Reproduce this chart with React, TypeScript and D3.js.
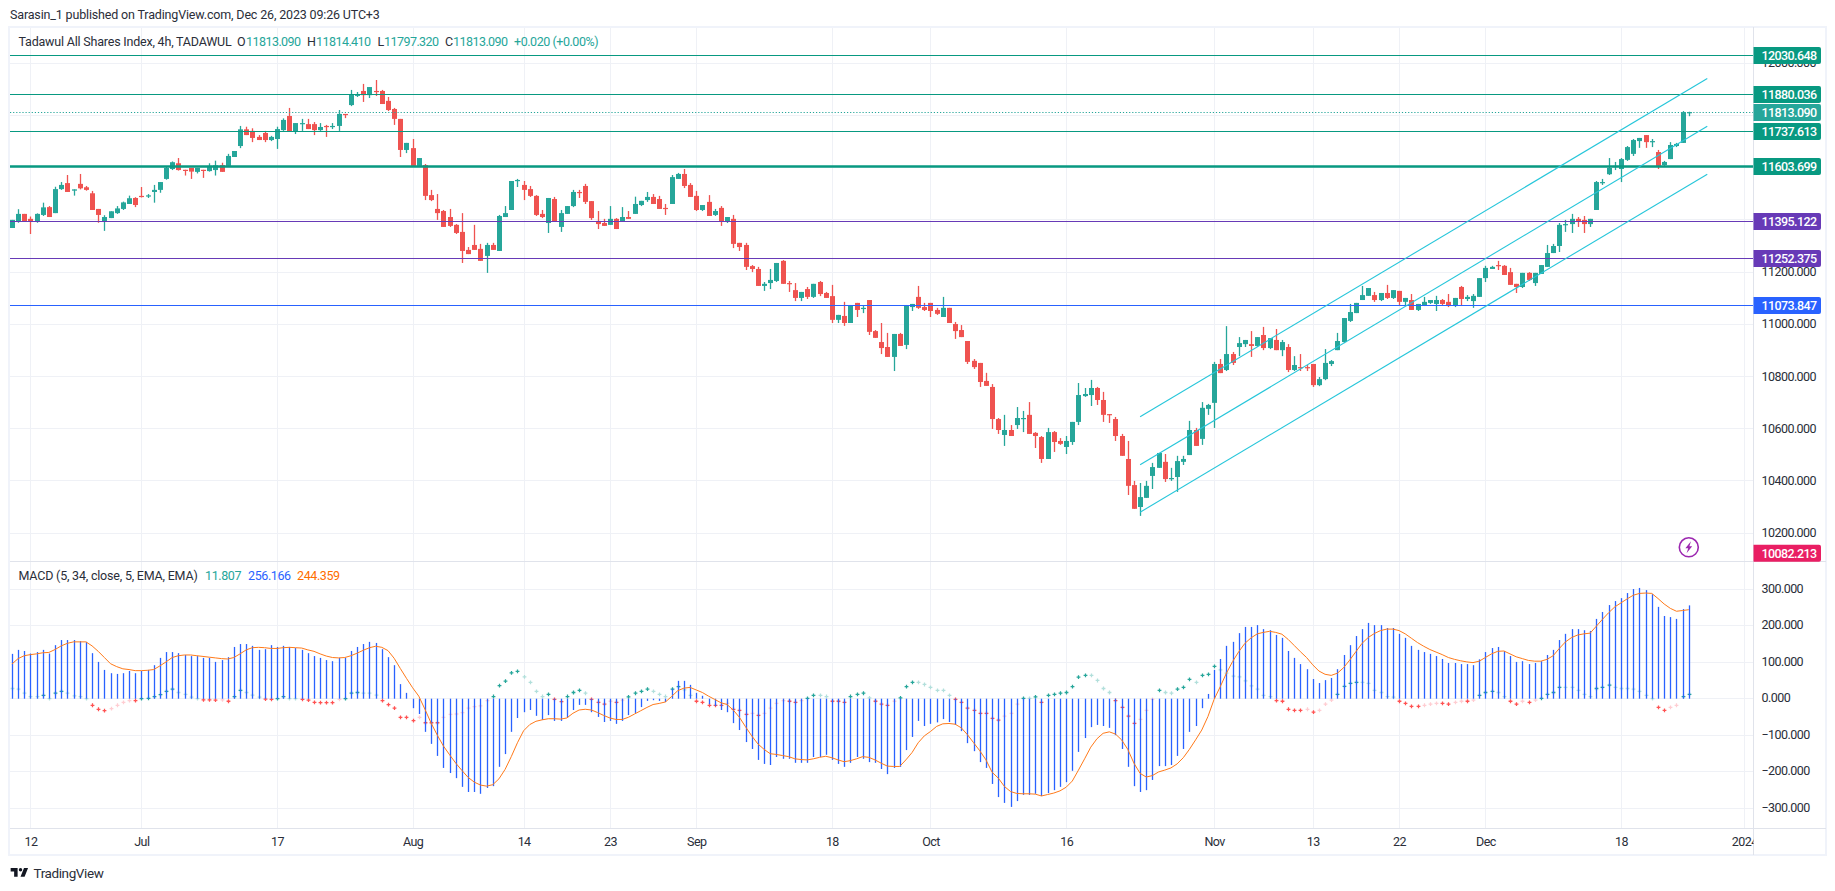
import { useEffect, useRef } from 'react';
import {
  select,
  scaleLinear,
  axisRight,
  axisBottom,
  line,
  symbol,
  symbolCross,
  format,
} from 'd3';

const opens = [
  11369,11393,11423,11404,11393,11419,11449,11426,11518,11541,
  11512,11538,11525,11502,11442,11395,11407,11426,11442,11461,
  11484,11492,11490,11507,11515,11557,11595,11617,11592,11599,
  11584,11592,11587,11591,11610,11607,11641,11683,11747,11741,
  11718,11733,11706,11710,11744,11798,11739,11767,11767,11767,
  11744,11760,11756,11760,11806,11840,11875,11894,11878,11894,
  11894,11856,11825,11787,11668,11675,11607,11610,11495,11442,
  11434,11411,11381,11354,11285,11304,11289,11262,11304,11281,
  11411,11438,11549,11534,11518,11492,11423,11388,11480,11373,
  11423,11453,11507,11530,11472,11396,11388,11381,11404,11393,
  11411,11423,11457,11476,11488,11480,11446,11461,11557,11576,
  11534,11492,11438,11469,11419,11446,11392,11404,11312,11304,
  11223,11212,11147,11158,11166,11243,11158,11131,11101,11135,
  11105,11162,11120,11108,11017,11032,11005,11082,11059,11093,
  10974,10932,10913,10875,10963,10921,11066,11105,11066,11082,
  11055,11028,11063,11001,10978,10936,10860,10852,10783,10760,
  10637,10576,10595,10614,10637,10653,10584,10568,10484,10587,
  10553,10530,10549,10626,10725,10729,10756,10710,10656,10637,
  10572,10484,10384,10300,10335,10419,10450,10473,10407,10415,
  10473,10499,10595,10561,10676,10699,10848,10825,10886,10913,
  10924,10924,10917,10959,10909,10940,10901,10913,10825,10836,
  10836,10848,10767,10790,10848,10901,10932,11013,11043,11093,
  11109,11112,11093,11120,11101,11128,11086,11093,11055,11074,
  11082,11078,11093,11086,11070,11143,11097,11089,11105,11177,
  11212,11227,11224,11200,11155,11143,11197,11158,11193,11220,
  11273,11300,11381,11384,11404,11400,11384,11438,11541,11575,
  11603,11595,11630,11653,11702,11725,11698,11660,11610,11633,
  11683,11695,11813.09,
];

const highs = [
  11400,11441,11423,11413,11425,11466,11453,11527,11545,11572,
  11517,11576,11530,11511,11442,11418,11433,11453,11470,11493,
  11487,11526,11499,11534,11545,11604,11624,11637,11592,11599,
  11599,11592,11617,11627,11619,11653,11664,11760,11757,11751,
  11725,11741,11722,11757,11789,11829,11771,11787,11787,11775,
  11771,11764,11771,11821,11806,11898,11890,11921,11909,11936,
  11898,11871,11829,11787,11695,11710,11637,11614,11515,11499,
  11438,11442,11384,11426,11296,11381,11308,11312,11312,11419,
  11453,11549,11557,11549,11530,11495,11438,11484,11488,11438,
  11453,11515,11515,11538,11472,11434,11404,11453,11407,11449,
  11434,11489,11473,11507,11499,11492,11461,11572,11580,11595,
  11541,11511,11457,11495,11442,11453,11411,11419,11312,11312,
  11227,11220,11162,11212,11235,11246,11166,11158,11124,11143,
  11155,11166,11124,11151,11036,11086,11074,11082,11074,11093,
  10978,11005,10967,10963,10967,11074,11078,11147,11082,11082,
  11063,11105,11063,11009,10997,10936,10867,10852,10814,10771,
  10641,10653,10614,10683,10668,10702,10587,10572,10603,10591,
  10564,10572,10626,10775,10756,10787,10760,10741,10656,10645,
  10580,10553,10400,10392,10400,10469,10507,10503,10450,10496,
  10496,10630,10603,10702,10695,10856,10867,10993,10894,10951,
  10940,10974,10951,10990,10947,10982,10940,10924,10878,10886,
  10844,10848,10798,10905,10863,10967,11024,11078,11082,11147,
  11139,11124,11120,11151,11131,11128,11101,11116,11078,11105,
  11093,11109,11097,11116,11101,11147,11112,11116,11177,11224,
  11224,11243,11227,11216,11155,11197,11200,11197,11227,11304,
  11308,11388,11400,11423,11411,11415,11404,11549,11557,11637,
  11622,11637,11683,11710,11714,11725,11710,11668,11626,11698,
  11695,11817,11814.41,
];

const lows = [
  11369,11389,11393,11346,11389,11415,11411,11426,11515,11507,
  11493,11517,11512,11438,11389,11358,11407,11423,11438,11461,
  11449,11486,11484,11466,11504,11554,11591,11589,11570,11557,
  11578,11561,11585,11570,11584,11607,11641,11675,11725,11698,
  11706,11698,11702,11672,11741,11739,11729,11741,11748,11725,
  11741,11718,11748,11741,11790,11836,11871,11852,11867,11875,
  11844,11817,11764,11641,11656,11607,11603,11476,11472,11400,
  11373,11373,11346,11235,11269,11285,11243,11197,11285,11281,
  11411,11438,11526,11476,11488,11415,11407,11350,11392,11354,
  11423,11449,11484,11461,11400,11365,11377,11381,11365,11393,
  11404,11423,11453,11469,11461,11442,11419,11461,11557,11522,
  11488,11434,11434,11415,11415,11377,11388,11292,11281,11208,
  11200,11147,11128,11135,11162,11155,11124,11089,11089,11097,
  11101,11108,11101,11005,11005,10994,11005,11028,11043,10959,
  10948,10886,10875,10821,10917,10905,11051,11059,11051,11028,
  11036,11028,11005,10944,10951,10848,10829,10760,10764,10599,
  10580,10534,10572,10599,10587,10580,10526,10469,10484,10511,
  10538,10503,10538,10614,10722,10687,10691,10626,10622,10553,
  10496,10346,10293,10266,10335,10369,10450,10396,10400,10358,
  10461,10499,10534,10538,10653,10603,10813,10821,10844,10878,
  10913,10875,10913,10901,10905,10901,10878,10817,10821,10821,
  10821,10760,10763,10786,10840,10901,10928,11009,11043,11093,
  11109,11086,11089,11097,11097,11074,11070,11055,11051,11070,
  11078,11051,11074,11066,11066,11070,11089,11063,11105,11162,
  11212,11208,11189,11151,11120,11139,11166,11147,11193,11220,
  11273,11277,11354,11350,11373,11350,11373,11438,11534,11572,
  11591,11545,11626,11645,11676,11676,11679,11595,11607,11633,
  11679,11695,11797.32,
];

const closes = [
  11400,11423,11393,11393,11423,11448,11411,11518,11534,11507,
  11517,11521,11515,11438,11419,11411,11433,11444,11467,11483,
  11457,11488,11494,11515,11545,11599,11621,11591,11589,11585,
  11599,11589,11607,11609,11584,11645,11664,11747,11725,11714,
  11706,11706,11718,11748,11783,11739,11771,11771,11748,11744,
  11756,11756,11760,11806,11802,11881,11881,11878,11909,11890,
  11844,11821,11787,11668,11695,11607,11637,11492,11476,11426,
  11373,11377,11350,11281,11269,11285,11243,11304,11285,11415,
  11426,11549,11553,11515,11492,11419,11411,11484,11392,11426,
  11453,11507,11503,11469,11407,11384,11377,11404,11365,11411,
  11404,11461,11473,11488,11461,11442,11442,11564,11576,11530,
  11488,11438,11457,11415,11434,11392,11411,11308,11296,11220,
  11212,11147,11155,11170,11235,11155,11155,11101,11124,11105,
  11155,11116,11101,11017,11036,11005,11074,11055,11063,10971,
  10948,10909,10875,10963,10917,11074,11078,11063,11055,11051,
  11040,11063,11005,10974,10951,10856,10836,10779,10764,10637,
  10595,10595,10572,10641,10641,10580,10572,10484,10587,10549,
  10542,10553,10626,10729,10733,10756,10710,10653,10653,10572,
  10496,10381,10293,10338,10381,10453,10507,10407,10411,10476,
  10484,10595,10534,10680,10691,10848,10813,10886,10852,10928,
  10940,10917,10951,10909,10947,10901,10932,10825,10844,10832,
  10832,10767,10790,10852,10859,10936,11024,11047,11082,11112,
  11139,11093,11120,11101,11131,11086,11101,11055,11078,11086,
  11093,11093,11078,11070,11101,11097,11105,11109,11177,11216,
  11220,11224,11189,11151,11143,11197,11170,11197,11227,11273,
  11300,11381,11384,11404,11396,11384,11404,11545,11545,11599,
  11607,11633,11679,11706,11714,11698,11702,11607,11622,11687,
  11691,11813,11813.09,
];

// MACD pane: blue columns
const macdBars = [
  123,134,131,124,128,134,124,147,161,161,
  161,158,156,125,101,79,70,68,70,76,
  70,76,79,92,112,128,128,125,120,117,
  117,112,112,101,106,114,142,150,150,145,
  134,136,147,142,145,142,139,134,125,117,
  112,106,103,112,112,131,142,150,156,153,
  136,114,92,40,16,-26,-42,-91,-124,-157,
  -190,-204,-218,-242,-256,-256,-261,-245,-240,-187,
  -152,-91,-53,-37,-31,-47,-58,-45,-61,-61,
  -53,-31,-17,-17,-37,-50,-64,-61,-69,-61,
  -45,-39,-23,-6,-4,-6,-9,27,49,49,
  38,16,8,-15,-20,-31,-37,-67,-86,-119,
  -138,-168,-179,-182,-160,-165,-165,-176,-176,-176,
  -160,-160,-154,-168,-179,-187,-176,-160,-165,-174,
  -176,-193,-207,-190,-187,-141,-105,-61,-75,-69,
  -65,-56,-64,-72,-89,-122,-144,-174,-190,-234,
  -270,-286,-297,-281,-264,-264,-261,-267,-259,-251,
  -242,-229,-198,-146,-108,-78,-72,-75,-80,-100,
  -138,-187,-240,-256,-251,-223,-185,-185,-182,-157,
  -138,-91,-75,-26,13,79,109,145,156,180,
  197,197,202,191,188,175,167,131,112,95,
  81,54,43,51,57,81,120,147,172,191,
  208,202,202,194,194,178,167,145,134,128,
  123,117,109,98,98,95,95,92,108,128,
  139,142,131,117,101,103,95,98,103,120,
  134,161,178,191,191,188,186,219,238,257,
  268,276,290,301,304,298,287,252,227,224,
  219,246,256.166,
];

// MACD pane: orange signal line
const signalLine = [
  95,110,118,121,123,126,127,135,145,152,
  156,156,156,145,130,113,96,88,82,80,
  77,77,78,80,90,101,113,118,120,120,
  118,116,114,112,110,109,113,123,134,140,
  141,140,138,138,140,141,140,139,134,130,
  123,117,113,112,113,118,125,133,140,144,
  141,132,111,83,56,30,7,-29,-67,-100,
  -130,-154,-177,-197,-216,-229,-237,-240,-236,-220,
  -194,-159,-121,-88,-71,-62,-58,-55,-55,-56,
  -53,-40,-31,-29,-31,-38,-46,-53,-57,-57,
  -51,-42,-33,-24,-16,-13,-9,6,22,29,
  31,24,17,7,-2,-11,-16,-31,-51,-77,
  -102,-124,-139,-151,-153,-156,-159,-165,-167,-168,
  -165,-161,-158,-162,-168,-173,-170,-165,-159,-161,
  -168,-177,-185,-186,-186,-168,-148,-121,-102,-90,
  -76,-69,-68,-70,-80,-99,-121,-143,-168,-202,
  -218,-241,-255,-260,-261,-261,-262,-267,-263,-259,
  -253,-243,-226,-196,-165,-133,-110,-95,-91,-97,
  -113,-139,-177,-205,-215,-211,-201,-196,-190,-179,
  -162,-139,-113,-86,-49,-2,33,70,102,129,
  152,167,178,182,185,182,177,163,146,129,
  113,93,76,67,64,70,85,106,129,152,
  168,179,187,191,191,187,178,166,154,144,
  135,128,121,113,108,104,101,99,103,113,
  123,130,131,123,115,110,105,103,103,108,
  118,138,156,168,175,178,180,199,218,236,
  252,263,274,284,289,290,289,275,260,248,
  240,242,244.359,
];

// MACD pane: cross markers
const histCrosses = [
  28,26,15,6,6,9,0,15,20,15,
  8,6,0,-18,-29,-33,-27,-18,-10,-5,
  -5,0,1,6,11,20,26,17,12,4,
  0,-3,-3,-4,-3,-7,6,23,17,10,
  4,-1,-2,0,6,0,0,-2,-4,-10,
  -11,-11,-11,-2,0,15,17,15,15,10,
  -5,-16,-26,-51,-51,-60,-51,-66,-66,-66,
  -51,-43,-42,-38,-26,-22,-20,-5,6,36,
  48,71,75,60,45,20,6,12,-2,-8,
  6,17,23,15,-2,-10,-15,-7,-10,-4,
  5,15,20,26,20,12,6,26,33,24,
  9,-7,-10,-18,-18,-18,-13,-29,-32,-43,
  -40,-46,-40,-26,-13,-5,-7,-10,-5,1,
  9,9,6,-7,-7,-10,6,12,15,2,
  -7,-15,-18,-7,2,33,45,45,39,31,
  23,23,9,-2,-10,-26,-32,-40,-40,-54,
  -59,-48,-40,-15,1,1,5,-10,9,12,
  15,17,33,59,64,64,50,28,17,-5,
  -24,-48,-68,-57,-32,-2,23,17,15,26,
  31,53,45,64,67,89,79,70,62,60,
  49,35,26,9,6,-5,-7,-29,-32,-32,
  -29,-37,-32,-15,-4,12,34,42,45,45,
  42,23,17,6,4,-7,-13,-21,-21,-18,
  -15,-13,-13,-15,-10,-7,-7,-4,9,17,
  20,17,6,-7,-15,-7,-10,-4,1,12,
  17,31,31,31,23,12,6,28,31,37,
  31,28,28,26,20,9,0,-24,-32,-24,
  -18,6,11.807,
];

const priceTicks = [10200, 10400, 10600, 10800, 11000, 11200, 11400, 11600, 11800, 12000];
const macdTicks = [-300, -200, -100, 0, 100, 200, 300];
const timeTickIndex = [3, 21, 43, 65, 83, 97, 111, 133, 149, 171, 195, 211, 225, 239, 261, 281];
const timeTickLabels = ['12', 'Jul', '17', 'Aug', '14', '23', 'Sep', '18', 'Oct', '16', 'Nov', '13', '22', 'Dec', '18', '2024'];

const levelPrices = [12030.648, 11880.036, 11737.613, 11603.699, 11395.122, 11252.375, 11073.847];
const levelColors = ['#089981', '#089981', '#089981', '#089981', '#673AB7', '#673AB7', '#2962FF'];
const levelWidths = [1.2, 1.2, 1.2, 2.4, 1.2, 1.2, 1.2];

const channelStart = 183;
const channelEnd = 275;
const channelStartPrices = [10646, 10462, 10280];
const channelEndPrices = [11942, 11759, 11575];

const lastPrice = 11813.09;
const lowLabel = 10082.213;

const W = 1835;
const H = 891;
const left = 10;
const axisX = 1753.5;
const right = 1826;
const top = 27;
const paneBottom = 561;
const macdBottom = 828;
const bottom = 855;
const UP = '#26A69A';
const DOWN = '#EF5350';
const FONT = 'Roboto, sans-serif';
const INK = '#2A2E39';

const App = () => {
  const ref = useRef<SVGSVGElement>(null);

  useEffect(() => {
    const svg = select(ref.current);
    svg.selectAll('*').remove();

    const x = scaleLinear().domain([0, 272]).range([11.9, 1688.8]);
    const y = scaleLinear().domain([10200, 12000]).range([533.1, 63.3]);
    const yM = scaleLinear().domain([-300, 300]).range([808, 589.4]);
    const px = (i: number) => Math.round(x(i));
    const crisp = (v: number) => Math.floor(v) + 0.5;

    svg.append('defs').append('clipPath').attr('id', 'plot')
      .append('rect').attr('x', left).attr('y', top).attr('width', axisX - left).attr('height', bottom - top);

    // grid
    const grid = svg.append('g').attr('stroke', '#EFF1F6').attr('shape-rendering', 'crispEdges');
    grid.selectAll('.v').data(timeTickIndex).join('line').attr('class', 'v')
      .attr('x1', (d) => px(d) + 0.5).attr('x2', (d) => px(d) + 0.5)
      .attr('y1', top).attr('y2', macdBottom);
    grid.selectAll('.h').data(priceTicks).join('line').attr('class', 'h')
      .attr('x1', left).attr('x2', axisX)
      .attr('y1', (d) => crisp(y(d))).attr('y2', (d) => crisp(y(d)));
    grid.selectAll('.m').data(macdTicks).join('line').attr('class', 'm')
      .attr('x1', left).attr('x2', axisX)
      .attr('y1', (d) => crisp(yM(d))).attr('y2', (d) => crisp(yM(d)));

    const plot = svg.append('g').attr('clip-path', 'url(#plot)');

    // candles
    const candles = plot.append('g');
    const isUp = (i: number) => closes[i] >= opens[i];
    candles.selectAll('.wick').data(opens).join('rect').attr('class', 'wick')
      .attr('x', (_, i) => px(i) - 0.15)
      .attr('y', (_, i) => y(highs[i]))
      .attr('width', 1.3)
      .attr('height', (_, i) => Math.max(1, y(lows[i]) - y(highs[i])))
      .attr('fill', (_, i) => (isUp(i) ? UP : DOWN));
    candles.selectAll('.body').data(opens).join('rect').attr('class', 'body')
      .attr('x', (_, i) => px(i) - 2)
      .attr('y', (_, i) => y(Math.max(opens[i], closes[i])))
      .attr('width', 5)
      .attr('height', (_, i) => Math.max(1.2, Math.abs(y(opens[i]) - y(closes[i]))))
      .attr('fill', (_, i) => (isUp(i) ? UP : DOWN));

    // levels
    plot.selectAll('.level').data(levelPrices).join('line').attr('class', 'level')
      .attr('x1', left).attr('x2', axisX)
      .attr('y1', (d) => crisp(y(d))).attr('y2', (d) => crisp(y(d)))
      .attr('stroke', (_, i) => levelColors[i])
      .attr('stroke-width', (_, i) => levelWidths[i]);

    plot.append('line')
      .attr('x1', left).attr('x2', axisX)
      .attr('y1', crisp(y(lastPrice))).attr('y2', crisp(y(lastPrice)))
      .attr('stroke', UP).attr('stroke-width', 1.2).attr('stroke-dasharray', '1.2 1.9');

    // channel
    plot.selectAll('.chan').data(channelStartPrices).join('line').attr('class', 'chan')
      .attr('x1', x(channelStart)).attr('x2', x(channelEnd))
      .attr('y1', (d) => y(d)).attr('y2', (_, i) => y(channelEndPrices[i]))
      .attr('stroke', '#26C6DA').attr('stroke-width', 1.1);

    // lightning badge
    const badge = svg.append('g').attr('transform', `translate(${x(272)},547.3)`);
    badge.append('circle').attr('r', 9.5).attr('fill', '#fff').attr('stroke', '#9C27B0').attr('stroke-width', 1.6);
    badge.append('path').attr('d', 'M2.2 -6 L-3.4 1 L-0.6 1 L-2.2 6 L3.4 -1 L0.6 -1 Z').attr('fill', '#9C27B0');

    // macd pane
    plot.selectAll('.cross').data(histCrosses).join('path').attr('class', 'cross')
      .attr('d', symbol().type(symbolCross).size(8)() as string)
      .attr('transform', (d, i) => `translate(${px(i) + 0.5},${yM(d)})`)
      .attr('fill', (d, i) => {
        const prev = i > 0 ? histCrosses[i - 1] : d;
        if (d >= 0) return d > prev ? '#26A69A' : '#B2DFDB';
        return d > prev ? '#FFCDD2' : '#FF5252';
      });

    plot.append('g')
      .selectAll('rect').data(macdBars).join('rect')
      .attr('x', (_, i) => px(i) - 0.15)
      .attr('y', (d) => Math.min(yM(d), yM(0)))
      .attr('width', 1.3)
      .attr('height', (d) => Math.abs(yM(d) - yM(0)))
      .attr('fill', '#2962FF');

    const signalPath = line<number>().x((_, i) => x(i)).y((d) => yM(d));
    plot.append('path').attr('d', signalPath(signalLine) as string)
      .attr('fill', 'none').attr('stroke', '#FF7A1A').attr('stroke-width', 1);

    // frame
    const frame = svg.append('g').attr('shape-rendering', 'crispEdges');
    frame.append('rect').attr('x', 9).attr('y', top).attr('width', right - 9).attr('height', bottom - top)
      .attr('fill', 'none').attr('stroke', '#F0F3FA').attr('stroke-width', 2);
    [paneBottom, macdBottom].forEach((v) => {
      frame.append('line').attr('x1', left).attr('x2', right).attr('y1', v + 0.5).attr('y2', v + 0.5).attr('stroke', '#E0E3EB');
    });
    frame.append('line').attr('x1', axisX).attr('x2', axisX).attr('y1', top).attr('y2', bottom).attr('stroke', '#E0E3EB');

    // axes
    const styleAxis = (g: any) => {
      g.select('.domain').remove();
      g.selectAll('text')
        .attr('font-family', FONT).attr('font-size', 12.5).attr('letter-spacing', -0.55).attr('fill', INK);
    };
    svg.append('g').attr('transform', `translate(${axisX + 8},-0.5)`)
      .call(axisRight(y).tickValues(priceTicks).tickSize(0).tickPadding(0).tickFormat(format('.3f')) as any)
      .call(styleAxis);
    svg.append('g').attr('transform', `translate(${axisX + 8},-1)`)
      .call(axisRight(yM).tickValues(macdTicks).tickSize(0).tickPadding(0).tickFormat(format('.3f')) as any)
      .call(styleAxis);
    svg.append('defs').append('clipPath').attr('id', 'timeclip')
      .append('rect').attr('x', left).attr('y', macdBottom).attr('width', axisX - left).attr('height', bottom - macdBottom);
    svg.append('g').attr('clip-path', 'url(#timeclip)')
      .append('g').attr('transform', `translate(0,${macdBottom + 9})`)
      .call(axisBottom(x).tickValues(timeTickIndex).tickSize(0).tickPadding(0).tickFormat((_, i) => timeTickLabels[i]) as any)
      .call(styleAxis);

    // price labels
    const labels = levelPrices.map((p, i) => ({ p, c: levelColors[i] }));
    labels.push({ p: lastPrice, c: UP }, { p: lowLabel, c: '#E91E63' });
    const tag = svg.append('g').selectAll('g').data(labels).join('g')
      .attr('transform', (d) => `translate(${axisX},${d.p === lowLabel ? 553.2 : crisp(y(d.p))})`);
    tag.append('path')
      .attr('d', 'M0 -8.5 H65.5 a2 2 0 0 1 2 2 V6.5 a2 2 0 0 1 -2 2 H0 Z')
      .attr('fill', (d) => d.c);
    tag.append('text').attr('x', 8).attr('dy', '0.35em')
      .attr('font-family', FONT).attr('font-size', 12.5).attr('font-weight', 500)
      .attr('letter-spacing', -0.6).attr('fill', '#fff')
      .text((d) => format('.3f')(d.p));

    // legends
    const txt = (sx: number, sy: number, s: string, fill: string, spacing: number, size = 12.5) =>
      svg.append('text').attr('x', sx).attr('y', sy)
        .attr('font-family', FONT).attr('font-size', size).attr('letter-spacing', spacing)
        .attr('fill', fill).text(s);

    txt(10, 19, 'Sarasin_1 published on TradingView.com, Dec 26, 2023 09:26 UTC+3', INK, -0.16);
    txt(18.5, 46, 'Tadawul All Shares Index, 4h, TADAWUL', INK, -0.2);
    txt(237, 46, 'O', INK, 0);
    txt(246, 46, '11813.090', UP, -0.55);
    txt(307, 46, 'H', INK, 0);
    txt(316, 46, '11814.410', UP, -0.55);
    txt(377.5, 46, 'L', INK, 0);
    txt(384, 46, '11797.320', UP, -0.55);
    txt(445, 46, 'C', INK, 0);
    txt(453, 46, '11813.090', UP, -0.55);
    txt(514, 46, '+0.020 (+0.00%)', UP, -0.45);

    txt(18.5, 580, 'MACD (5, 34, close, 5, EMA, EMA)', INK, -0.2);
    txt(205, 580, '11.807', UP, -0.4);
    txt(248, 580, '256.166', '#2962FF', -0.4);
    txt(297, 580, '244.359', '#FF6D00', -0.4);

    // footer logo
    svg.append('path')
      .attr('transform', 'translate(9.5,864.5) scale(0.58)')
      .attr('d', 'M14 6H2v6h6v9h6V6zm12 15h-7l6-15h7l-6 15zm-7-9a3 3 0 1 0 0-6 3 3 0 0 0 0 6z')
      .attr('fill', '#131722');
    txt(33.5, 878, 'TradingView', INK, -0.4, 13.5);
  }, []);

  return (
    <svg
      ref={ref}
      width={W}
      height={H}
      style={{ position: 'absolute', left: 0, top: 0, background: '#fff' }}
    />
  );
};

export default App;
